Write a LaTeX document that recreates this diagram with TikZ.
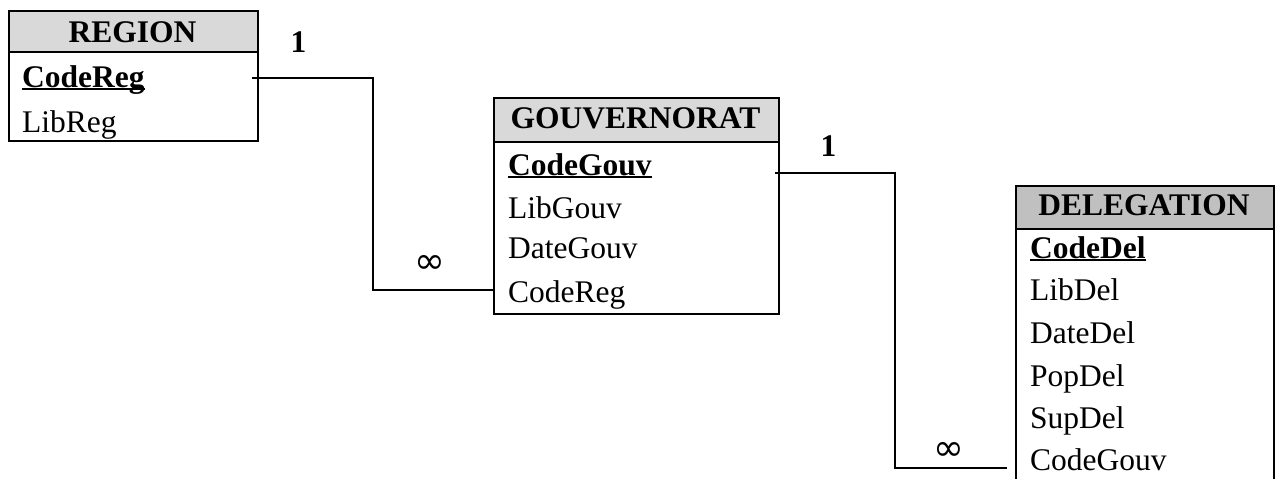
\documentclass[tikz,border=0pt]{standalone}
\usepackage{fontspec}
\setmainfont{Liberation Serif}
\newfontfamily\symfont{DejaVu Sans}
\usetikzlibrary{calc}
\definecolor{headA}{HTML}{D9D9D9}
\definecolor{headB}{HTML}{C0C0C0}
\begin{document}
\begin{tikzpicture}[x=1pt,y=-1pt,
  box/.style={draw, line width=2pt, inner sep=0pt, anchor=north west},
  sep/.style={line width=2pt},
  attr/.style={anchor=base west, inner sep=0pt, font=\fontsize{31.5}{36}\selectfont},
  ttl/.style={anchor=base, inner sep=0pt, font=\fontsize{31.5}{36}\selectfont\bfseries},
  keyline/.style={line width=2.5pt},
  card/.style={anchor=base, inner sep=0pt, font=\fontsize{31.5}{36}\selectfont\bfseries},
  many/.style={inner sep=0pt, font=\symfont\fontsize{37}{40}\selectfont},
  conn/.style={line width=1.6pt}]
\clip (0,0) rectangle (1278,479);
\fill[white] (0,0) rectangle (1278,479);

% REGION
\fill[headA] (8,10) rectangle (257,52);
\node[box, minimum width=249pt, minimum height=130pt] (region) at (8,10) {};
\draw[sep] (region.west |- 0,52) -- (region.east |- 0,52);
\node[ttl] (regiont) at (132.5,42) {REGION};
\node[attr] (rcode) at (22,87) {\bfseries CodeReg};
\draw[keyline] ($(rcode.base west)+(0,2)$) -- ($(rcode.base east)+(0,2)$);
\node[attr] (rlib) at (22,132) {LibReg};

% GOUVERNORAT
\fill[headA] (493,97) rectangle (778,142);
\node[box, minimum width=285pt, minimum height=216pt] (gouv) at (493,97) {};
\draw[sep] (gouv.west |- 0,142) -- (gouv.east |- 0,142);
\node[ttl] (gouvt) at (635.5,128) {GOUVERNORAT};
\node[attr] (gcode) at (508,175) {\bfseries CodeGouv};
\draw[keyline] ($(gcode.base west)+(0,2)$) -- ($(gcode.base east)+(0,2)$);
\node[attr] (glib) at (508,218) {LibGouv};
\node[attr] (gdate) at (508,258) {DateGouv};
\node[attr] (greg) at (508,302) {CodeReg};

% DELEGATION
\fill[headB] (1015,185) rectangle (1273,229);
\node[box, minimum width=258pt, minimum height=340pt] (deleg) at (1015,185) {};
\draw[sep] (deleg.west |- 0,229) -- (deleg.east |- 0,229);
\node[ttl] (delegt) at (1144,215) {DELEGATION};
\node[attr] (dcode) at (1030,258) {\bfseries CodeDel};
\draw[keyline] ($(dcode.base west)+(0,2)$) -- ($(dcode.base east)+(0,2)$);
\node[attr] (dlib) at (1030,300) {LibDel};
\node[attr] (ddate) at (1030,343) {DateDel};
\node[attr] (dpop) at (1030,386) {PopDel};
\node[attr] (dsup) at (1030,428) {SupDel};
\node[attr] (dgouv) at (1030,470) {CodeGouv};

% connectors
\coordinate (c1a) at (252,78);
\coordinate (c1b) at (495,290);
\draw[conn] (c1a) -- ++(121,0) |- (c1b);
\coordinate (c2a) at (775,173);
\coordinate (c2b) at (1007,468);
\draw[conn] (c2a) -- ++(120,0) |- (c2b);

% cardinalities
\node[card] (one1) at (298.5,52) {1};
\node[card] (one2) at (828.5,156) {1};
\node[many] (inf1) at (430,264) {∞};
\node[many] (inf2) at (949,451) {∞};
\end{tikzpicture}
\end{document}
